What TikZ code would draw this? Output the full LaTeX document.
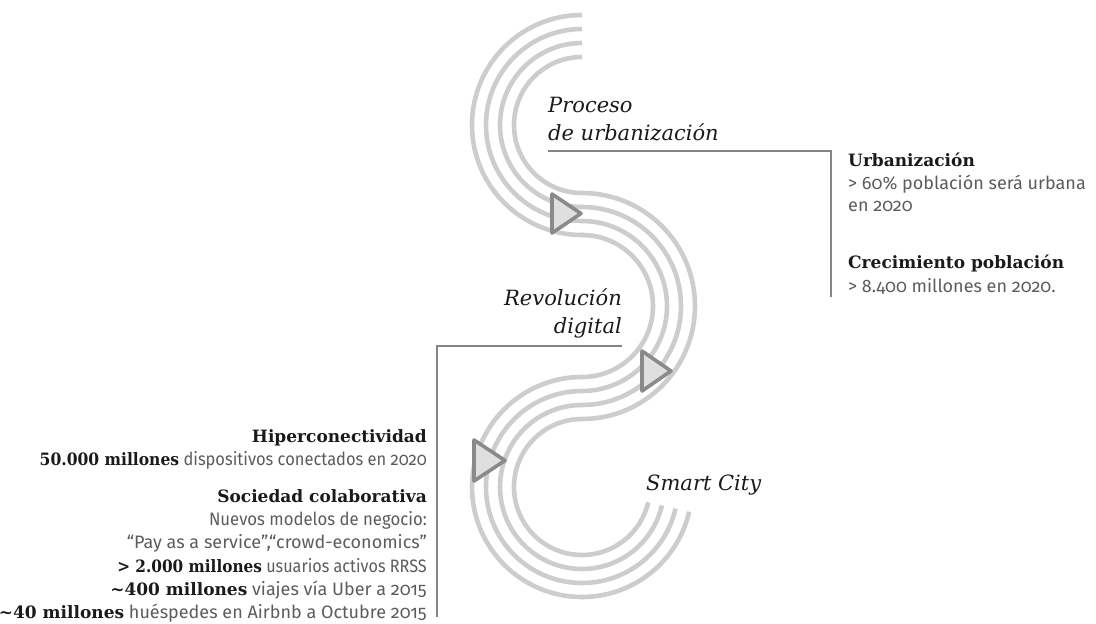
\documentclass[tikz,border=0pt]{standalone}
\usepackage{fontspec}
\setmainfont{DejaVu Serif}
\setsansfont{Fira Sans}[Numbers=OldStyle]
\definecolor{bandgray}{HTML}{CDCDCD}
\definecolor{leadergray}{HTML}{858585}
\definecolor{bodygray}{HTML}{5C5C5C}
\definecolor{ink}{HTML}{1A1A1A}
\definecolor{tripfill}{HTML}{DFDFDF}
\definecolor{tripedge}{HTML}{8A8A8A}
\newcommand\boldfig[1]{{\rmfamily\bfseries\fontsize{17}{20}\selectfont\color{ink}#1}}
\begin{document}
\begin{tikzpicture}[x=1pt,y=1pt,
  band/.style={draw=bandgray, line width=4.6pt, line cap=butt},
  leader/.style={draw=leadergray, line width=1.3pt},
  marker/.style={fill=tripfill, draw=tripedge, line width=3.6pt, line join=round},
  lbl/.style={inner sep=0pt, text=ink, font=\fontsize{21}{24}\selectfont\itshape},
  head/.style={inner sep=0pt, text=ink, font=\fontsize{17}{20}\selectfont\bfseries},
  body/.style={inner sep=0pt, text=bodygray, font=\sffamily\fontsize{18}{22}\selectfont},
  squeeze/.style={xscale=#1, transform shape}]
\useasboundingbox (0,0) rectangle (1096,-624);

% serpentine of four parallel strands: three half turns
\foreach \o in {-21,-7,7,21}{
  \draw[band] (582,{-36+\o})
    arc[start angle=90, end angle=270, radius={89+\o}]
    arc[start angle=90, end angle=-90, radius={92-\o}]
    arc[start angle=90, end angle=347, radius={89+\o}];
}

% direction markers on the band
\draw[marker] (552,-194) -- (581,-213.5) -- (552,-233) -- cycle;
\draw[marker] (642,-351) -- (671,-371) -- (642,-391) -- cycle;
\draw[marker] (474,-440) -- (505,-460.5) -- (474,-481) -- cycle;

% stage labels
\node[lbl, anchor=base west] (proc1) at (548,-112) {Proceso};
\node[lbl, anchor=base west] (proc2) at (548,-140) {de urbanización};
\node[lbl, anchor=base east] (rev1) at (622,-305) {Revolución};
\node[lbl, anchor=base east] (rev2) at (622,-333) {digital};
\node[lbl, anchor=base west] (smart) at (646,-490) {Smart City};

% leader lines
\coordinate (l1a) at (548,-151);
\coordinate (l1b) at (831,-151);
\coordinate (l1c) at (831,-297);
\draw[leader] (l1a) -- (l1b) -- (l1c);
\coordinate (l2a) at (622,-346);
\coordinate (l2b) at (437,-346);
\coordinate (l2c) at (437,-617);
\draw[leader] (l2a) -- (l2b) -- (l2c);

% urbanisation facts
\node[head, anchor=base west] (urb) at (848,-166) {Urbanización};
\node[body, anchor=base west] (urb1) at (848,-189) {> 60\% población será urbana};
\node[body, anchor=base west] (urb2) at (848,-211) {en 2020};
\node[head, anchor=base west] (crec) at (848,-268) {Crecimiento población};
\node[body, anchor=base west] (crec1) at (848,-292) {> 8.400 millones en 2020.};

% digital revolution facts
\node[head, anchor=base east] (hip) at (427,-442) {Hiperconectividad};
\node[body, anchor=base east, squeeze=0.915] (hip1) at (427,-465) {\boldfig{50.000 millones} dispositivos conectados en 2020};
\node[head, anchor=base east] (soc) at (427,-502) {Sociedad colaborativa};
\node[body, anchor=base east, squeeze=0.93] (soc1) at (427,-525) {Nuevos modelos de negocio:};
\node[body, anchor=base east] (soc2) at (427,-548) {“Pay as a service”,“crowd-economics”};
\node[body, anchor=base east, squeeze=0.9] (soc3) at (427,-572) {\boldfig{> 2.000 millones} usuarios activos RRSS};
\node[body, anchor=base east] (soc4) at (427,-595) {\boldfig{\textasciitilde400 millones} viajes vía Uber a 2015};
\node[body, anchor=base east] (soc5) at (427,-618) {\boldfig{\textasciitilde40 millones} huéspedes en Airbnb a Octubre 2015};
\end{tikzpicture}
\end{document}
